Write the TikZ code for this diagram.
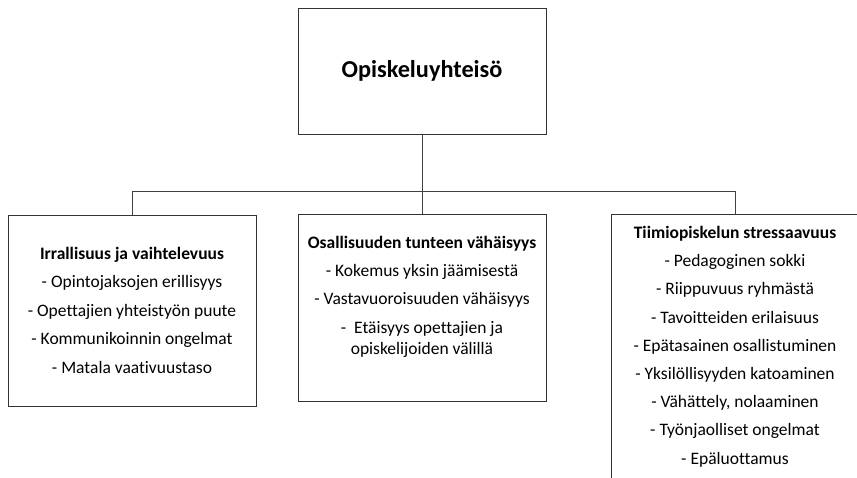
\documentclass[tikz,border=0pt]{standalone}
\usepackage{fontspec}
\setmainfont{Carlito}[Ligatures=NoCommon]
\usetikzlibrary{positioning}

\begin{document}
\begin{tikzpicture}[
  x=1pt, y=1pt,
  every node/.style={font=\fontsize{17.5}{21}\selectfont},
  rootbox/.style={draw=black!80, line width=0.9pt, minimum width=248pt,
              minimum height=126pt, font=\fontsize{24.3}{29}\selectfont\bfseries},
  catbox/.style={draw=black!80, line width=0.9pt, minimum width=248pt},
  cattext/.style={align=center, inner sep=0pt},
  link/.style={draw=black!75, line width=0.9pt},
]
  \useasboundingbox (0,0) rectangle (857,-478);
  \clip (0,0) rectangle (857,-478);

  \node[rootbox] (root) at (422,-71) {Opiskeluyhteisö};

  \node[catbox, minimum height=191pt] (irr) at (132,-310.5) {};
  \node[catbox, minimum height=187pt] (osa) at (422,-307.5) {};
  \node[catbox, minimum height=280pt] (tiimi) at (735,-354) {};

  \node[cattext, below=32pt of irr.north] (irrtext)
    {\textbf{Irrallisuus ja vaihtelevuus}\\[7.5pt]
     - Opintojaksojen erillisyys\\[7.5pt]
     - Opettajien yhteistyön puute\\[7.5pt]
     - Kommunikoinnin ongelmat\\[7.5pt]
     - Matala vaativuustaso};
  \node[cattext, below=22.5pt of osa.north] (osatext)
    {\textbf{Osallisuuden tunteen vähäisyys}\\[6.5pt]
     - Kokemus yksin jäämisestä\\[7.5pt]
     - Vastavuoroisuuden vähäisyys\\[7.5pt]
     -~ Etäisyys opettajien ja\\
     opiskelijoiden välillä};
  \node[cattext, below=12.5pt of tiimi.north] (tiimitext)
    {\textbf{Tiimiopiskelun stressaavuus}\\[7.2pt]
     - Pedagoginen sokki\\[7.2pt]
     - Riippuvuus ryhmästä\\[7.2pt]
     - Tavoitteiden erilaisuus\\[7.2pt]
     - Epätasainen osallistuminen\\[7.2pt]
     - Yksilöllisyyden katoaminen\\[7.2pt]
     - Vähättely, nolaaminen\\[7.2pt]
     - Työnjaolliset ongelmat\\[7.2pt]
     - Epäluottamus};

  \coordinate[below=57pt of root.south] (bus);
  \draw[link] (root.south) -- (bus);
  \draw[link] (irr.north) |- (bus) -| (tiimi.north);
  \draw[link] (osa.north) -- (osa.north |- bus);
\end{tikzpicture}
\end{document}
